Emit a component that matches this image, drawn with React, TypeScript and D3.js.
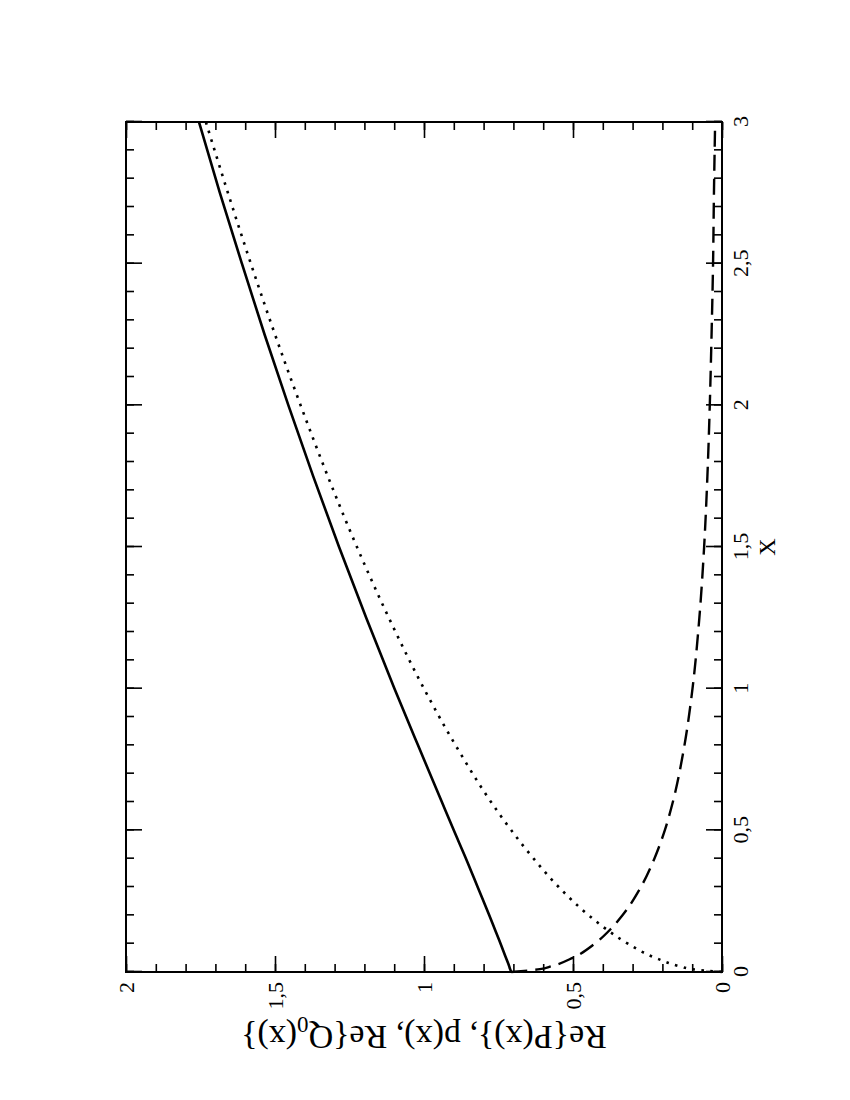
import React, { useEffect, useRef } from 'react';
import * as d3 from 'd3';

// values
const xs = [0, 0.01, 0.02, 0.05, 0.1, 0.15, 0.2, 0.3, 0.4, 0.5, 0.6, 0.8, 1.0, 1.25, 1.5, 1.75, 2.0, 2.25, 2.5, 2.75, 3.0];
const reP = [0.707, 0.711, 0.714, 0.725, 0.743, 0.762, 0.781, 0.82, 0.859, 0.9, 0.94, 1.02, 1.099, 1.194, 1.285, 1.372, 1.455, 1.535, 1.611, 1.685, 1.755];
const pSmall = [0, 0.1, 0.141, 0.224, 0.316, 0.387, 0.447, 0.548, 0.632, 0.707, 0.775, 0.894, 1.0, 1.118, 1.225, 1.323, 1.414, 1.5, 1.581, 1.658, 1.732];
const reQ0 = [0.707, 0.611, 0.573, 0.501, 0.427, 0.375, 0.334, 0.272, 0.227, 0.192, 0.165, 0.126, 0.099, 0.076, 0.06, 0.049, 0.041, 0.035, 0.03, 0.027, 0.023];

const xMajor = [0, 0.5, 1, 1.5, 2, 2.5, 3];
const yMajor = [0, 0.5, 1, 1.5, 2];

const fmt = (d: number) => String(d).replace('.', ',');

const App = () => {
  const ref = useRef<SVGSVGElement>(null);

  useEffect(() => {
    const root = d3.select(ref.current);
    root.selectAll('*').remove();

    // plot is drawn landscape and turned 90deg counter-clockwise
    const width = 850;
    const height = 596;
    const g = root.append('g')
      .attr('transform', 'translate(126,972) rotate(-90)')
      .style('font-family', '"Liberation Serif", serif');

    const x = d3.scaleLinear().domain([0, 3]).range([0, width]);
    const y = d3.scaleLinear().domain([0, 2]).range([height, 0]);

    const xMinor = d3.range(0, 3.0001, 0.1).map(v => +v.toFixed(2));
    const yMinor = d3.range(0, 2.0001, 0.1).map(v => +v.toFixed(2));

    const tickStyle = (sel: any) => {
      sel.select('.domain').remove();
      sel.selectAll('.tick line').attr('stroke', '#000').attr('stroke-width', 1.6);
    };

    // minor ticks (inside)
    g.append('g').attr('transform', `translate(0,${height})`)
      .call(d3.axisBottom(x).tickValues(xMinor).tickSize(-8).tickFormat(() => ''))
      .call(tickStyle);
    g.append('g')
      .call(d3.axisTop(x).tickValues(xMinor).tickSize(-8).tickFormat(() => ''))
      .call(tickStyle);
    g.append('g')
      .call(d3.axisLeft(y).tickValues(yMinor).tickSize(-8).tickFormat(() => ''))
      .call(tickStyle);
    g.append('g').attr('transform', `translate(${width},0)`)
      .call(d3.axisRight(y).tickValues(yMinor).tickSize(-8).tickFormat(() => ''))
      .call(tickStyle);

    // major ticks with labels
    const xb = g.append('g').attr('transform', `translate(0,${height})`)
      .call(d3.axisBottom(x).tickValues(xMajor).tickSize(-16).tickPadding(10).tickFormat(d => fmt(+d)))
      .call(tickStyle);
    xb.selectAll('.tick text').attr('font-size', 22).attr('fill', '#000').attr('font-family', '"Liberation Serif", serif');
    g.append('g')
      .call(d3.axisTop(x).tickValues(xMajor).tickSize(-16).tickFormat(() => ''))
      .call(tickStyle);

    const yl = g.append('g')
      .call(d3.axisLeft(y).tickValues(yMajor).tickSize(-16).tickPadding(10).tickFormat(d => fmt(+d)))
      .call(tickStyle);
    yl.selectAll('.tick text').attr('font-size', 22).attr('fill', '#000').attr('font-family', '"Liberation Serif", serif');
    g.append('g').attr('transform', `translate(${width},0)`)
      .call(d3.axisRight(y).tickValues(yMajor).tickSize(-16).tickFormat(() => ''))
      .call(tickStyle);

    // curves
    const mk = (vals: number[]) => d3.line<number>()
      .x((_, i) => x(xs[i]))
      .y(d => y(d))
      .curve(d3.curveMonotoneX)(vals);

    g.append('path').attr('d', mk(pSmall)).attr('fill', 'none')
      .attr('stroke', '#000').attr('stroke-width', 2.6).attr('stroke-dasharray', '2.6,6.4');
    g.append('path').attr('d', mk(reQ0)).attr('fill', 'none')
      .attr('stroke', '#000').attr('stroke-width', 2.4).attr('stroke-dasharray', '16,8');
    g.append('path').attr('d', mk(reP)).attr('fill', 'none')
      .attr('stroke', '#000').attr('stroke-width', 2.6);

    // frame
    g.append('rect').attr('width', width).attr('height', height)
      .attr('fill', 'none').attr('stroke', '#000').attr('stroke-width', 2);

    // axis titles
    g.append('text')
      .attr('x', width / 2).attr('y', height + 53)
      .attr('text-anchor', 'middle').attr('font-size', 24)
      .text('X');

    const yt = g.append('text')
      .attr('transform', `translate(-54,${height / 2}) rotate(-90)`)
      .attr('text-anchor', 'middle').attr('font-size', 34);
    yt.append('tspan').text('Re{P(x)}, p(x), Re{Q');
    yt.append('tspan').attr('font-size', 23).attr('dy', 9).text('0');
    yt.append('tspan').attr('dy', -9).text('(x)}');
  }, []);

  return <svg ref={ref} width={834} height={1084} style={{ display: 'block', margin: 0, position: 'absolute', left: 0, top: 0 }}></svg>;
};

export default App;
